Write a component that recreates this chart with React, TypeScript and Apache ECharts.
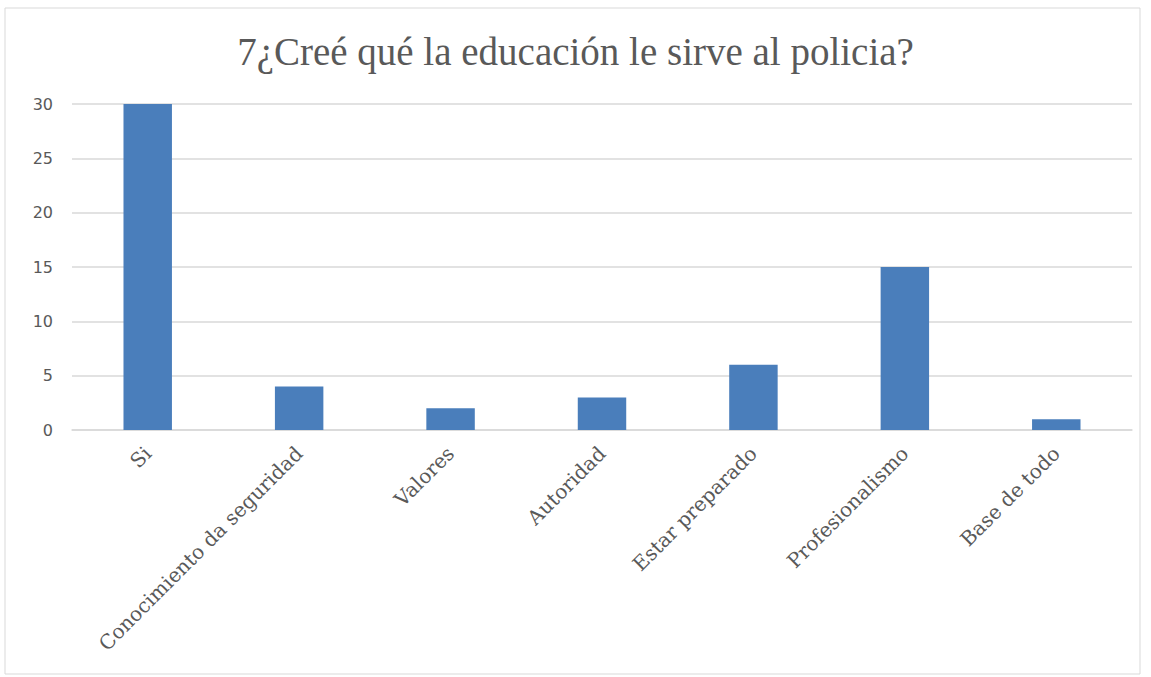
import React, { useEffect, useRef } from "react";
import * as echarts from "echarts";

const titleText = "7¿Creé qué la educación le sirve al policia?";
const categories = [
  "Si",
  "Conocimiento da seguridad",
  "Valores",
  "Autoridad",
  "Estar preparado",
  "Profesionalismo",
  "Base de todo",
];
const values = [30, 4, 2, 3, 6, 15, 1];

export default function App() {
  const ref = useRef<HTMLDivElement>(null);
  useEffect(() => {
    if (!ref.current) return;
    const chart = echarts.init(ref.current, null, { renderer: "svg" });
    chart.setOption({
      animation: false,
      backgroundColor: "#ffffff",
      title: {
        text: titleText,
        left: "center",
        top: 27,
        textStyle: {
          fontFamily: "Liberation Serif",
          fontSize: 39,
          fontWeight: "normal",
          color: "#595959",
        },
      },
      graphic: [
        {
          type: "rect",
          shape: { x: 5, y: 8, width: 1135, height: 666 },
          style: { fill: "none", stroke: "#d9d9d9", lineWidth: 1 },
          silent: true,
        },
      ],
      grid: { left: 72, right: 19, top: 104, bottom: 247 },
      xAxis: {
        type: "category",
        data: categories,
        axisLine: { lineStyle: { color: "#d9d9d9", width: 1.5 } },
        axisTick: { show: false },
        axisLabel: {
          rotate: 45,
          interval: 0,
          margin: 20,
          fontFamily: "DejaVu Serif",
          fontSize: 20,
          color: "#595959",
        },
      },
      yAxis: {
        type: "value",
        min: 0,
        max: 30,
        interval: 5,
        axisLine: { show: false },
        axisTick: { show: false },
        splitLine: { lineStyle: { color: "#d9d9d9", width: 1.5 } },
        axisLabel: {
          margin: 19,
          fontFamily: "DejaVu Sans",
          fontSize: 16,
          color: "#595959",
        },
      },
      series: [
        {
          type: "bar",
          data: values,
          barWidth: "32%",
          itemStyle: { color: "#4a7ebb" },
        },
      ],
    });
    return () => chart.dispose();
  }, []);
  return (
    <div
      ref={ref}
      style={{ position: "fixed", left: 0, top: 0, width: 1151, height: 677 }}
    />
  );
}
